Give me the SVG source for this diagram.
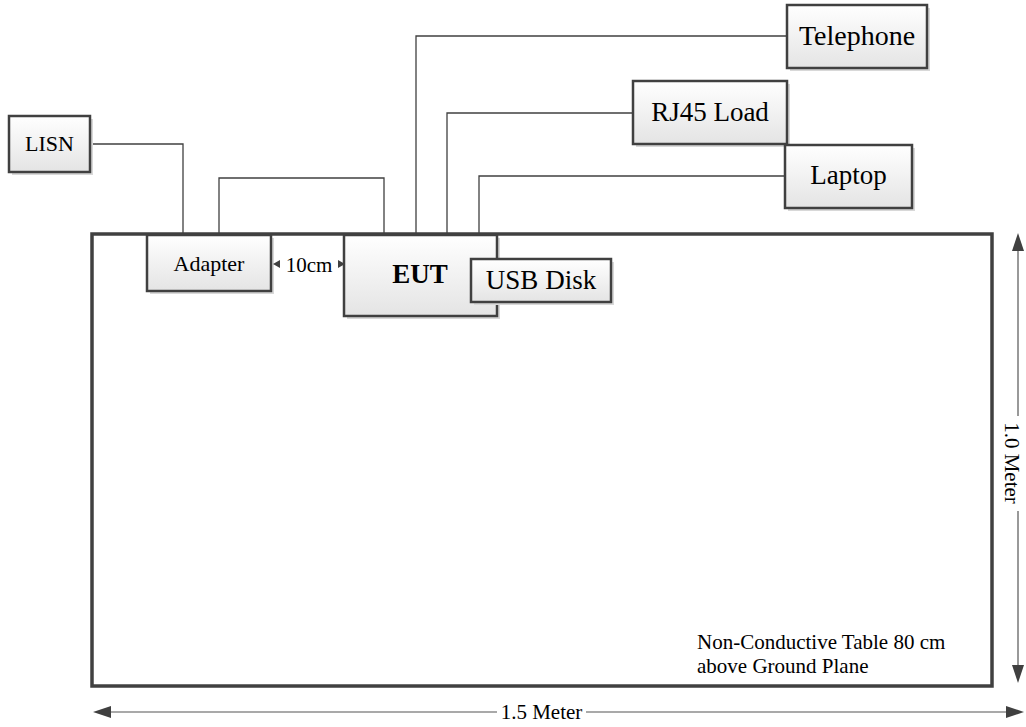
<svg xmlns="http://www.w3.org/2000/svg" width="1026" height="727" viewBox="0 0 1026 727">
<defs>
<linearGradient id="boxfill" x1="0" y1="0" x2="0" y2="1">
<stop offset="0" stop-color="#ffffff"/>
<stop offset="1" stop-color="#e4e4e4"/>
</linearGradient>
</defs>
<style>
.box{fill:url(#boxfill);stroke:#404040;stroke-width:2.5}
.shadow{fill:#d8d8d8}
.lbl{font-family:"Liberation Serif",serif;fill:#000;text-anchor:middle}
.wire{fill:none;stroke:#404040;stroke-width:1.3}
.dim{fill:none;stroke:#555;stroke-width:1.2}
.ah{fill:#404040}
</style>
<rect width="1026" height="727" fill="#fff"/>
<g id="table">
<rect x="92" y="234" width="900" height="452" fill="none" stroke="#404040" stroke-width="3.5"/>
<text class="lbl" x="697" y="649" font-size="21" style="text-anchor:start">Non-Conductive Table 80 cm</text>
<text class="lbl" x="697" y="673" font-size="21" style="text-anchor:start">above Ground Plane</text>
</g>
<g id="connectors">
<polyline class="wire" points="90,144 183,144 183,234"/>
<polyline class="wire" points="219,234 219,178 384,178 384,234"/>
<polyline class="wire" points="787,36 416,36 416,234"/>
<polyline class="wire" points="633,113 447,113 447,234"/>
<polyline class="wire" points="785,176 479,176 479,234"/>
</g>
<g id="LISN">
<rect class="shadow" x="12" y="119" width="81" height="56"/>
<rect class="box" x="9" y="116" width="81" height="56"/>
<text class="lbl" x="49.5" y="151" font-size="22">LISN</text>
</g>
<g id="Adapter">
<rect class="shadow" x="150" y="238" width="124" height="56"/>
<rect class="box" x="147" y="235" width="124" height="56"/>
<text class="lbl" x="209" y="271" font-size="22">Adapter</text>
</g>
<g id="EUT">
<rect class="shadow" x="347" y="238" width="153" height="81"/>
<rect class="box" x="344" y="235" width="153" height="81"/>
<text class="lbl" x="420" y="283" font-size="27" font-weight="bold">EUT</text>
</g>
<g id="USBDisk">
<rect class="shadow" x="474" y="262" width="140" height="43"/>
<rect class="box" x="471" y="259" width="140" height="43"/>
<text class="lbl" x="541" y="289" font-size="27">USB Disk</text>
</g>
<g id="Telephone">
<rect class="shadow" x="790" y="8" width="140" height="63"/>
<rect class="box" x="787" y="5" width="140" height="63"/>
<text class="lbl" x="857" y="45" font-size="28">Telephone</text>
</g>
<g id="RJ45Load">
<rect class="shadow" x="636" y="84" width="154" height="63"/>
<rect class="box" x="633" y="81" width="154" height="63"/>
<text class="lbl" x="710" y="121" font-size="27">RJ45 Load</text>
</g>
<g id="Laptop">
<rect class="shadow" x="788" y="148" width="127" height="63"/>
<rect class="box" x="785" y="145" width="127" height="63"/>
<text class="lbl" x="848.5" y="184" font-size="27">Laptop</text>
</g>
<g id="spacing">
<polygon class="ah" points="273,264 280,260 280,268"/>
<polygon class="ah" points="345,264 338,260 338,268"/>
<text class="lbl" x="309" y="272" font-size="21">10cm</text>
</g>
<g id="dim-width">
<line class="dim" x1="100" y1="712" x2="497" y2="712"/>
<line class="dim" x1="586" y1="712" x2="1016" y2="712"/>
<polygon class="ah" points="93,712 111,706 111,718"/>
<polygon class="ah" points="1024,712 1006,706 1006,718"/>
<text class="lbl" x="541.5" y="719" font-size="21">1.5 Meter</text>
</g>
<g id="dim-height">
<line class="dim" x1="1018" y1="240" x2="1018" y2="416"/>
<line class="dim" x1="1018" y1="511" x2="1018" y2="676"/>
<polygon class="ah" points="1018,233 1012,251 1024,251"/>
<polygon class="ah" points="1018,683 1012,665 1024,665"/>
<text class="lbl" font-size="21" transform="translate(1005,463) rotate(90)" x="0" y="0">1.0 Meter</text>
</g>
</svg>
